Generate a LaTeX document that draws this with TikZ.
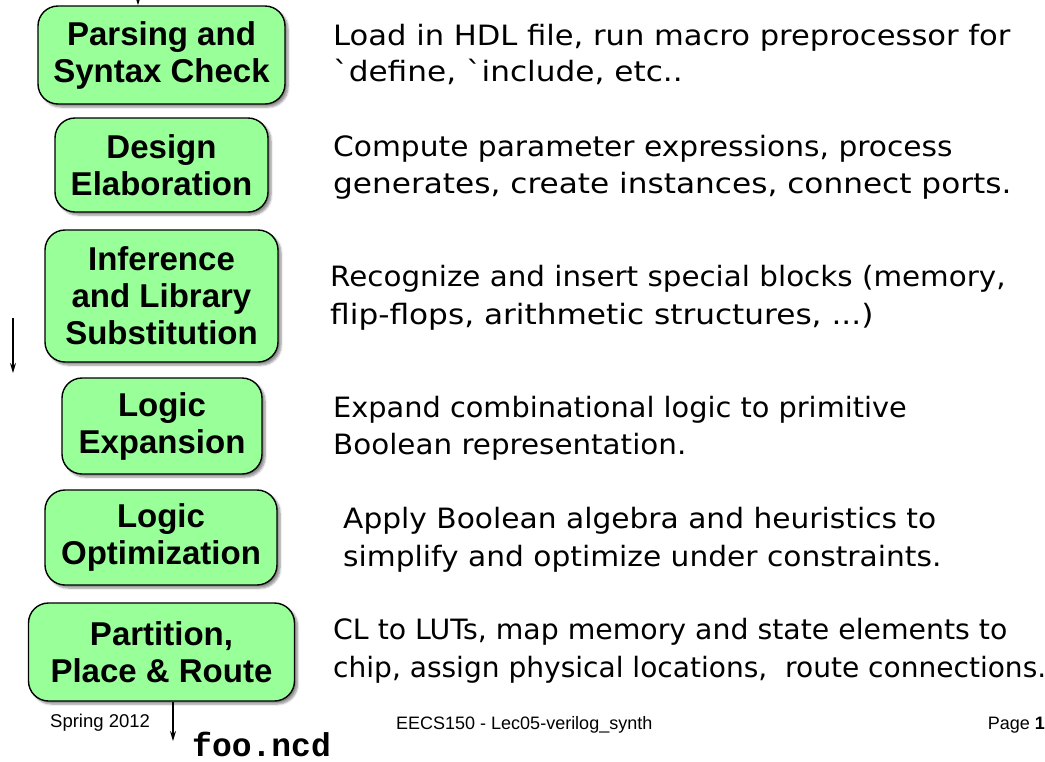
\documentclass[tikz,border=0pt]{standalone}
\usepackage{fontspec}
\setmainfont{Liberation Sans}
\newfontfamily\notefont[FakeStretch=1.06]{DejaVu Sans}
\newfontfamily\codefont{Liberation Mono}
\usetikzlibrary{shadows.blur,arrows.meta}
\definecolor{stagegreen}{RGB}{153,255,153}
\tikzset{
  stage/.style={draw=black, line width=1.4pt, fill=stagegreen, rounded corners=20pt,
    align=center, inner sep=0pt,
    font=\fontsize{33}{37}\selectfont\bfseries,
    blur shadow={shadow xshift=3pt, shadow yshift=-3pt, shadow blur steps=6, shadow opacity=45}},
  note/.style={anchor=base west, inner sep=0pt, font=\notefont\fontsize{28}{32}\selectfont},
  foot/.style={inner sep=0pt, font=\fontsize{18}{20}\selectfont},
  flow/.style={line width=1.4pt, -{Stealth[length=10pt,width=6pt]}},
}
% a description line, widened or narrowed by the factor #1
\newcommand\descline[2]{\scalebox{#1}[1]{#2}}
\begin{document}
\begin{tikzpicture}[x=1pt,y=-1pt]
\useasboundingbox (0,0) rectangle (1045,761);

% processing stages
\node[stage, minimum width=247pt, minimum height=98pt] (p1) at (161.5,55) {Parsing and\\Syntax Check};
\node[stage, minimum width=213pt, minimum height=94pt] (p2) at (161.5,165) {Design\\Elaboration};
\node[stage, minimum width=233pt, minimum height=132pt] (p3) at (161.5,296) {Inference\\and Library\\Substitution};
\node[stage, minimum width=200pt, minimum height=96pt] (p4) at (162,426) {Logic\\Expansion};
\node[stage, minimum width=232pt, minimum height=95pt] (p5) at (161,537.5) {Logic\\Optimization};
\node[stage, minimum width=266pt, minimum height=98pt] (p6) at (161.5,652) {Partition,\\Place \& Route};

% descriptions
\node[note] (d1a) at (333,45.5) {\descline{1.03}{Load in HDL file, run macro preprocessor for}};
\node[note] (d1b) at (333,81.5) {\descline{1.05}{`define, `include, etc..}};
\node[note] (d2a) at (333,156.5) {\descline{1.0}{Compute parameter expressions, process}};
\node[note] (d2b) at (333,193.5) {\descline{1.05}{generates, create instances, connect ports.}};
\node[note] (d3a) at (330,286.5) {\descline{0.99}{Recognize and insert special blocks (memory,}};
\node[note] (d3b) at (330,324.5) {\descline{1.05}{flip-flops, arithmetic structures, ...)}};
\node[note] (d4a) at (333,417.5) {\descline{0.97}{Expand combinational logic to primitive}};
\node[note] (d4b) at (333,454.5) {\descline{0.99}{Boolean representation.}};
\node[note] (d5a) at (343,528.5) {\descline{1.0}{Apply Boolean algebra and heuristics to}};
\node[note] (d5b) at (343,566.5) {\descline{1.0}{simplify and optimize under constraints.}};
\node[note] (d6a) at (333,639.5) {\descline{0.955}{CL to LUTs, map memory and state elements to}};
\node[note] (d6b) at (333,677.5) {\descline{0.945}{chip, assign physical locations,\ \ route connections.}};

% flow arrows
\coordinate (src) at (138,-12);
\draw[flow] (src) -- (src |- p1.north);
\coordinate (sideA) at (13,318);
\coordinate (sideB) at (13,373);
\draw[flow] (sideA) -- (sideB);
\coordinate (outx) at (173,741);
\draw[flow] (outx |- p6.south) -- (outx);

% footer
\node[foot, anchor=base west, font=\fontsize{18.5}{20}\selectfont] (spring) at (50,727) {Spring 2012};
\node[foot, anchor=base west] (course) at (396,729) {EECS150 - Lec05-verilog\_synth};
\node[foot, anchor=base east] (page) at (1045,729) {Page \textbf{1}};
\node[anchor=base west, inner sep=0pt, font=\codefont\bfseries\fontsize{33}{34}\selectfont] (out) at (192,756) {foo.ncd};
\end{tikzpicture}
\end{document}
